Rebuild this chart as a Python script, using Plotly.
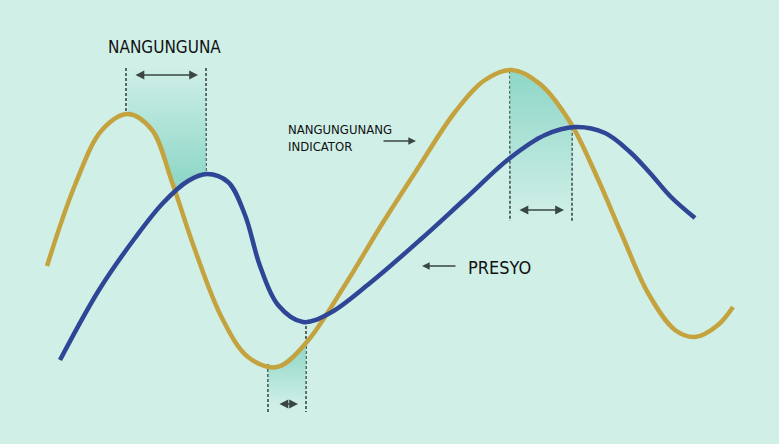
import numpy as np
import plotly.graph_objects as go

# Leading indicator (gold) curve anchor points
gold_x = [47, 75, 102, 128, 152, 172, 195, 222, 248, 277, 306, 345, 382, 418, 455, 485, 512, 540, 570, 597, 622, 648, 675, 695, 718, 733]
gold_y = [266, 185, 130, 114, 130, 182, 250, 318, 357, 367, 343, 285, 224, 168, 112, 80, 70, 84, 122, 177, 235, 293, 330, 337, 325, 307]

# Price (navy) curve anchor points
navy_x = [60, 99, 135, 163, 188, 207, 228, 245, 260, 278, 303, 330, 370, 420, 465, 510, 545, 575, 605, 630, 650, 671, 695]
navy_y = [360, 290, 238, 203, 181, 174, 182, 215, 266, 305, 322, 313, 283, 240, 199, 158, 135, 127, 133, 152, 173, 197, 218]

# Lead intervals (x start, x end)
lead_x0 = [126, 268, 510]
lead_x1 = [206, 306, 572]

labels = ["NANGUNGUNA", "NANGUNGUNANG<br>INDICATOR", "PRESYO"]

BG = "#CFEFE7"
GOLD = "#C4A33F"
NAVY = "#2F4595"
DASH = "#3A4646"
TEAL0 = "rgba(140,214,198,0.0)"
TEAL1 = "rgba(140,214,198,0.95)"

def gy(x):
    return float(np.interp(x, gold_x, gold_y))

def ny(x):
    return float(np.interp(x, navy_x, navy_y))

fig = go.Figure()

# Region 1: between gold peak and navy peak
xs = np.linspace(lead_x0[0] + 2, 176, 20)
xn = np.linspace(lead_x1[0], 176, 12)
r1x = [lead_x0[0], lead_x1[0]] + list(xn) + list(xs[::-1])
r1y = [68, 68] + [ny(x) for x in xn] + [gy(x) for x in xs[::-1]]
fig.add_trace(go.Scatter(x=r1x, y=r1y, fill="toself", mode="none",
                         fillgradient=dict(type="vertical", start=68, stop=180,
                                           colorscale=[[0, TEAL0], [1, TEAL1]]),
                         hoverinfo="skip", showlegend=False))

# Region 2: trough
xs2 = np.linspace(lead_x0[1], lead_x1[1], 15)
r2x = list(xs2) + [lead_x1[1], lead_x0[1]]
r2y = [gy(x) for x in xs2] + [405, 405]
fig.add_trace(go.Scatter(x=r2x, y=r2y, fill="toself", mode="none",
                         fillgradient=dict(type="vertical", start=345, stop=405,
                                           colorscale=[[0, TEAL1], [1, TEAL0]]),
                         hoverinfo="skip", showlegend=False))

# Region 3: second peak
xs3 = np.linspace(lead_x0[2], lead_x1[2], 20)
r3x = list(xs3) + [lead_x1[2], lead_x0[2]]
r3y = [gy(x) for x in xs3] + [215, 215]
fig.add_trace(go.Scatter(x=r3x, y=r3y, fill="toself", mode="none",
                         fillgradient=dict(type="vertical", start=75, stop=215,
                                           colorscale=[[0, TEAL1], [1, TEAL0]]),
                         hoverinfo="skip", showlegend=False))

fig.add_trace(go.Scatter(x=gold_x, y=gold_y, mode="lines",
                         line=dict(color=GOLD, width=4.5, shape="spline", smoothing=1.0),
                         hoverinfo="skip", showlegend=False))
fig.add_trace(go.Scatter(x=navy_x, y=navy_y, mode="lines",
                         line=dict(color=NAVY, width=4.5, shape="spline", smoothing=1.0),
                         hoverinfo="skip", showlegend=False))

# Dashed guides
dash_lines = [
    (lead_x0[0], 68, gy(lead_x0[0])),
    (lead_x1[0], 68, ny(lead_x1[0])),
    (lead_x0[1], gy(lead_x0[1]), 412),
    (lead_x1[1], ny(lead_x1[1]), 412),
    (lead_x0[2], gy(lead_x0[2]), 221),
    (lead_x1[2], ny(lead_x1[2]), 221),
]
for x, y0, y1 in dash_lines:
    fig.add_shape(type="line", x0=x, x1=x, y0=y0, y1=y1, xref="x", yref="y",
                  line=dict(color=DASH, width=1.6, dash="3px,2px"), layer="below")

# Double arrows
arrows = [(lead_x0[0] + 8, lead_x1[0] - 8, 75),
          (lead_x0[1] + 10, lead_x1[1] - 8, 404),
          (lead_x0[2] + 8, lead_x1[2] - 8, 210)]
for xa, xb, y in arrows:
    fig.add_annotation(x=xb, y=y, ax=xa, ay=y, xref="x", yref="y", axref="x", ayref="y",
                       text="", showarrow=True, arrowhead=2, arrowside="end+start",
                       arrowsize=1.1, arrowwidth=1.6, arrowcolor=DASH)

# Single arrows
fig.add_annotation(x=416, y=141, ax=382, ay=141, xref="x", yref="y", axref="x", ayref="y",
                   text="", showarrow=True, arrowhead=2, arrowsize=1.1, arrowwidth=1.4, arrowcolor=DASH)
fig.add_annotation(x=422, y=266, ax=457, ay=266, xref="x", yref="y", axref="x", ayref="y",
                   text="", showarrow=True, arrowhead=2, arrowsize=1.1, arrowwidth=1.4, arrowcolor=DASH)

FONT = "DejaVu Sans Condensed, Liberation Sans Narrow, Arial Narrow, sans-serif"
fig.add_annotation(x=164, y=47, text=labels[0], showarrow=False, xref="x", yref="y",
                   font=dict(family=FONT, size=17, color="#111"), xanchor="center", yanchor="middle")
fig.add_annotation(x=286, y=138, text=labels[1], showarrow=False, xref="x", yref="y",
                   font=dict(family=FONT, size=13, color="#111"), xanchor="left", yanchor="middle",
                   align="left")
fig.add_annotation(x=466, y=267, text=labels[2], showarrow=False, xref="x", yref="y",
                   font=dict(family=FONT, size=18, color="#111"), xanchor="left", yanchor="middle")

fig.update_layout(width=779, height=444, margin=dict(l=0, r=0, t=0, b=0),
                  paper_bgcolor=BG, plot_bgcolor=BG)
fig.update_xaxes(range=[0, 779], visible=False, fixedrange=True)
fig.update_yaxes(range=[444, 0], visible=False, fixedrange=True)

fig.write_html("out.html", config={"displayModeBar": False},
               post_script="document.body.style.margin='0px';document.body.style.padding='0px';"
                           "document.body.style.background='#CFEFE7';")
